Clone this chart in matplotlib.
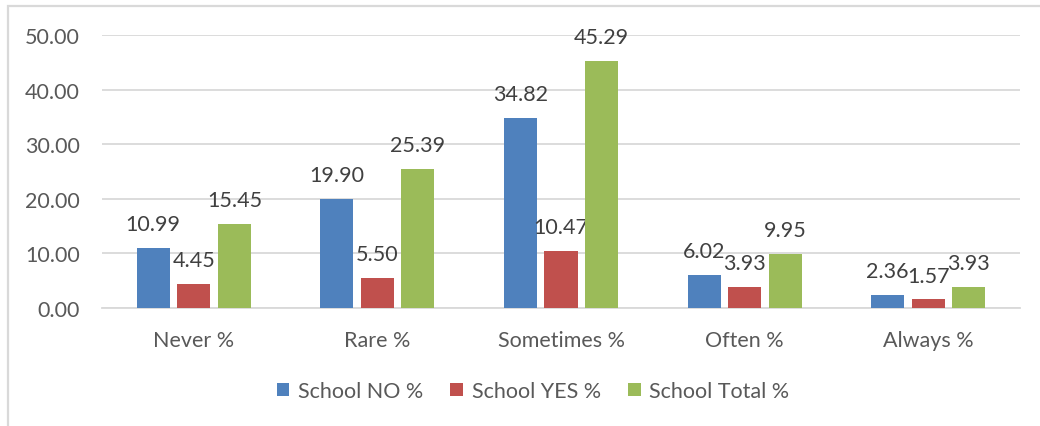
import matplotlib.pyplot as plt
import numpy as np
from matplotlib.patches import Rectangle

# Frequency categories and the three school series (percent)
categories = ['Never %', 'Rare %', 'Sometimes %', 'Often %', 'Always %']
school_no = [10.99, 19.90, 34.82, 6.02, 2.36]
school_yes = [4.45, 5.50, 10.47, 3.93, 1.57]
school_total = [15.45, 25.39, 45.29, 9.95, 3.93]
series_names = ['School NO %', 'School YES %', 'School Total %']
colors = ['#4F81BD', '#C0504D', '#9BBB59']

plt.rcParams['font.family'] = ['Lato', 'DejaVu Sans']
text_color = '#595959'
grid_color = '#D9D9D9'
fs = 15.5

fig = plt.figure(figsize=(10.4, 4.27), dpi=100)
ax = fig.add_axes([102 / 1040, 1 - 309 / 427, 918 / 1040, 273 / 427])

# light chart frame, running off the right and bottom edges
fig.patches.append(Rectangle((7.5 / 1040, -0.1), 1.2, 1 - 6.5 / 427 + 0.1,
                             transform=fig.transFigure, fill=False,
                             edgecolor=grid_color, linewidth=1.6))

x = np.arange(len(categories))
width = 0.18
step = 0.221
for i, (vals, name, c) in enumerate(zip([school_no, school_yes, school_total], series_names, colors)):
    bars = ax.bar(x + (i - 1) * step, vals, width, color=c, label=name, zorder=3)
    for b, v in zip(bars, vals):
        ax.annotate(f'{v:.2f}', (b.get_x() + b.get_width() / 2, v),
                    xytext=(0, 10), textcoords='offset points',
                    ha='center', va='bottom', fontsize=fs, color='#404040')

ax.set_xlim(-0.5, len(categories) - 0.5)
ax.set_ylim(0, 50)
ax.set_yticks(np.arange(0, 51, 10))
ax.set_yticklabels([f'{t:.2f}' for t in np.arange(0, 51, 10)])
ax.set_xticks(x)
ax.set_xticklabels(categories)
ax.tick_params(axis='both', length=0, labelsize=fs, colors=text_color)
ax.tick_params(axis='y', pad=16)
ax.tick_params(axis='x', pad=16)
ax.yaxis.grid(True, color=grid_color, linewidth=1.3, zorder=0)
for s in ['top', 'right', 'left']:
    ax.spines[s].set_visible(False)
ax.spines['bottom'].set_color(grid_color)
ax.spines['bottom'].set_linewidth(1.3)

leg = fig.legend(loc='center', bbox_to_anchor=(533 / 1040, 1 - 392 / 427), ncol=3,
                 frameon=False, fontsize=fs, handlelength=0.6, handleheight=0.6,
                 handletextpad=0.4, columnspacing=1.25)
for t in leg.get_texts():
    t.set_color(text_color)

fig.savefig('out.png', dpi=100)
